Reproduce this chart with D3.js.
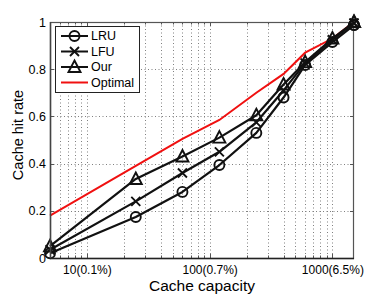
<!DOCTYPE html>
<html><head><meta charset="utf-8">
<script src="https://cdn.jsdelivr.net/npm/d3@7"></script>
<style>body{margin:0;background:#fff}svg{display:block;font-family:"Liberation Sans",Arial,sans-serif}</style>
</head><body><svg id="c" width="391" height="295"></svg>
<script>
const capacity = [5, 25, 60, 120, 240, 400, 600, 1000, 1500];
const lru     = [0.02, 0.174, 0.28, 0.394, 0.53, 0.68, 0.818, 0.915, 0.987];
const lfu     = [0.035, 0.24, 0.36, 0.45, 0.575, 0.71, 0.826, 0.925, 0.995];
const our     = [0.05, 0.335, 0.43, 0.51, 0.605, 0.735, 0.83, 0.93, 1.0];
const optimal = [0.18, 0.39, 0.505, 0.585, 0.70, 0.78, 0.87, 0.93, 1.0];
const xTickValues = [10, 100, 1000];
const xTickLabels = ["10(0.1%)", "100(0.7%)", "1000(6.5%)"];
const yTickValues = [0, 0.2, 0.4, 0.6, 0.8, 1];
const yTickLabels = ["0", "0.2", "0.4", "0.6", "0.8", "1"];
const seriesNames = ["LRU", "LFU", "Our", "Optimal"];

const L = 50, R = 354, T = 22, B = 258;
const svg = d3.select("#c");
const x = d3.scaleLog().domain([5, 1500]).range([L, R]);
const y = d3.scaleLinear().domain([0, 1]).range([B, T]);

const minor = [];
for (let d = 1; d <= 1000; d *= 10) for (let m = 1; m <= 9; m++) { const v = m * d; if (v >= 5 && v <= 1500) minor.push(v); }

const grid = svg.append("g").attr("stroke", "#808080").attr("stroke-width", 1).attr("stroke-dasharray", "1,2.5");
minor.forEach(v => grid.append("line").attr("x1", Math.round(x(v)) + 0.5).attr("x2", Math.round(x(v)) + 0.5).attr("y1", T).attr("y2", B));
yTickValues.slice(1, -1).forEach(v => grid.append("line").attr("y1", Math.round(y(v)) + 0.5).attr("y2", Math.round(y(v)) + 0.5).attr("x1", L).attr("x2", R));

const axB = d3.axisBottom(x).tickValues(xTickValues).tickFormat((d, i) => xTickLabels[i]).tickSize(0).tickPadding(7);
const gB = svg.append("g").attr("transform", `translate(0,${B})`).call(axB);
gB.select(".domain").remove();
gB.selectAll("text").attr("font-size", 12).attr("fill", "#000").attr("font-family", "Liberation Sans, Arial, sans-serif");

const axL = d3.axisLeft(y).tickValues(yTickValues).tickFormat((d, i) => yTickLabels[i]).tickSize(0).tickPadding(4);
const gL = svg.append("g").attr("transform", `translate(${L},0)`).call(axL);
gL.select(".domain").remove();
gL.selectAll("text").attr("font-size", 12.5).attr("fill", "#000").attr("font-family", "Liberation Sans, Arial, sans-serif");

const tk = svg.append("g").attr("stroke", "#555").attr("stroke-width", 1);
minor.forEach(v => {
  const xx = Math.round(x(v)) + 0.5;
  const len = xTickValues.includes(v) ? 4 : 2.5;
  tk.append("line").attr("x1", xx).attr("x2", xx).attr("y1", B).attr("y2", B - len);
  tk.append("line").attr("x1", xx).attr("x2", xx).attr("y1", T).attr("y2", T + len);
});
yTickValues.forEach(v => {
  const yy = Math.round(y(v)) + 0.5;
  tk.append("line").attr("x1", L).attr("x2", L + 4).attr("y1", yy).attr("y2", yy);
  tk.append("line").attr("x1", R).attr("x2", R - 4).attr("y1", yy).attr("y2", yy);
});

const line = d3.line().x((d, i) => x(capacity[i])).y(d => y(d));
svg.append("path").datum(optimal).attr("d", line).attr("fill", "none").attr("stroke", "#f01010").attr("stroke-width", 2);
[lru, lfu, our].forEach(s => svg.append("path").datum(s).attr("d", line).attr("fill", "none").attr("stroke", "#111").attr("stroke-width", 2.2).attr("stroke-linejoin", "round"));

function marker(g, type, cx, cy) {
  if (type === "o") g.append("circle").attr("cx", cx).attr("cy", cy).attr("r", 5).attr("fill", "none").attr("stroke", "#111").attr("stroke-width", 1.9);
  else if (type === "x") g.append("path").attr("d", `M${cx-4.5},${cy-4.5}L${cx+4.5},${cy+4.5}M${cx-4.5},${cy+4.5}L${cx+4.5},${cy-4.5}`).attr("stroke", "#111").attr("stroke-width", 1.9).attr("fill", "none");
  else g.append("path").attr("d", `M${cx},${cy-6.5}L${cx+6},${cy+5}L${cx-6},${cy+5}Z`).attr("fill", "none").attr("stroke", "#111").attr("stroke-width", 1.9).attr("stroke-linejoin", "miter");
}
const mg = svg.append("g");
[[lru, "o"], [lfu, "x"], [our, "^"]].forEach(([s, t]) => s.forEach((v, i) => marker(mg, t, x(capacity[i]), y(v))));

svg.append("rect").attr("x", L + 0.5).attr("y", T + 0.5).attr("width", R - L - 1).attr("height", B - T).attr("fill", "none").attr("stroke", "#555").attr("stroke-width", 1.2);
svg.append("line").attr("x1", L).attr("x2", R).attr("y1", B + 0.5).attr("y2", B + 0.5).attr("stroke", "#222").attr("stroke-width", 1.5);
svg.append("line").attr("x1", L + 0.5).attr("x2", L + 0.5).attr("y1", T).attr("y2", B).attr("stroke", "#444").attr("stroke-width", 1.5);
[[lru, "o"], [lfu, "x"], [our, "^"]].forEach(([s, t]) => { const i = s.length - 1; marker(svg, t, x(capacity[i]), y(s[i])); });

const lg = svg.append("g");
lg.append("rect").attr("x", 55.5).attr("y", 26.5).attr("width", 84).attr("height", 66).attr("fill", "#fff").attr("stroke", "#222").attr("stroke-width", 1);
const types = ["o", "x", "^", "r"];
seriesNames.forEach((n, i) => {
  const yy = 36 + i * 15.5;
  lg.append("line").attr("x1", 61).attr("x2", 88).attr("y1", yy).attr("y2", yy).attr("stroke", types[i] === "r" ? "#f01010" : "#111").attr("stroke-width", 2);
  if (types[i] !== "r") marker(lg, types[i], 74.5, yy);
  lg.append("text").attr("x", 91).attr("y", yy).attr("dy", "0.35em").attr("font-size", 12.5).attr("fill", "#000").text(n);
});

svg.append("text").attr("x", (L + R) / 2).attr("y", 290.5).attr("text-anchor", "middle").attr("font-size", 15.5).attr("fill", "#000").text("Cache capacity");
svg.append("text").attr("transform", "translate(23,135) rotate(-90)").attr("text-anchor", "middle").attr("font-size", 14.5).attr("fill", "#000").text("Cache hit rate");
</script></body></html>
